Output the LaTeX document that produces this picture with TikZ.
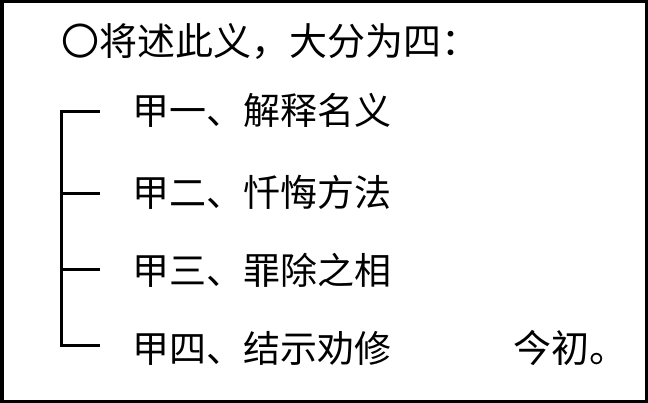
\documentclass[tikz,border=0pt]{standalone}
\usepackage{fontspec}
\newfontfamily\cjk{Noto Sans CJK SC}
\tikzset{
  item/.style={anchor=west,inner sep=0pt,font=\cjk\fontsize{37}{37}\selectfont},
  heading/.style={item,font=\cjk\fontsize{38}{38}\selectfont},
  brace/.style={line width=3pt,color=black}
}
\begin{document}
\begin{tikzpicture} [x=1pt,y=-1pt]
        \useasboundingbox (0,0) rectangle (648,403);
        \draw[line width=3.5pt] (1.75,1.75) rectangle (646.25,401.25);
        \node[heading] (title) at (61,42) {〇将述此义，大分为四：};
        \node[item] (i1) at (132,110) {甲一、解释名义};
        \node[item] (i2) at (132,192) {甲二、忏悔方法};
        \node[item] (i3) at (132,270) {甲三、罪除之相};
        \node[item] (i4) at (132,348) {甲四、结示劝修};
        \node[heading] (now) at (513,348) {今初。};
        \foreach \n/\y in {1/112,2/194,3/270,4/346}
        \coordinate (b\n) at (61,\y);
        \foreach \n/\y in {1/112,2/194,3/270,4/346}
        \coordinate (t\n) at (100,\y);
        \draw[brace] (t1) -- (b1) -- (b4) -- (t4);
        \draw[brace] (b2) -- (t2);
        \draw[brace] (b3) -- (t3);
        \end{tikzpicture}
\end{document}
